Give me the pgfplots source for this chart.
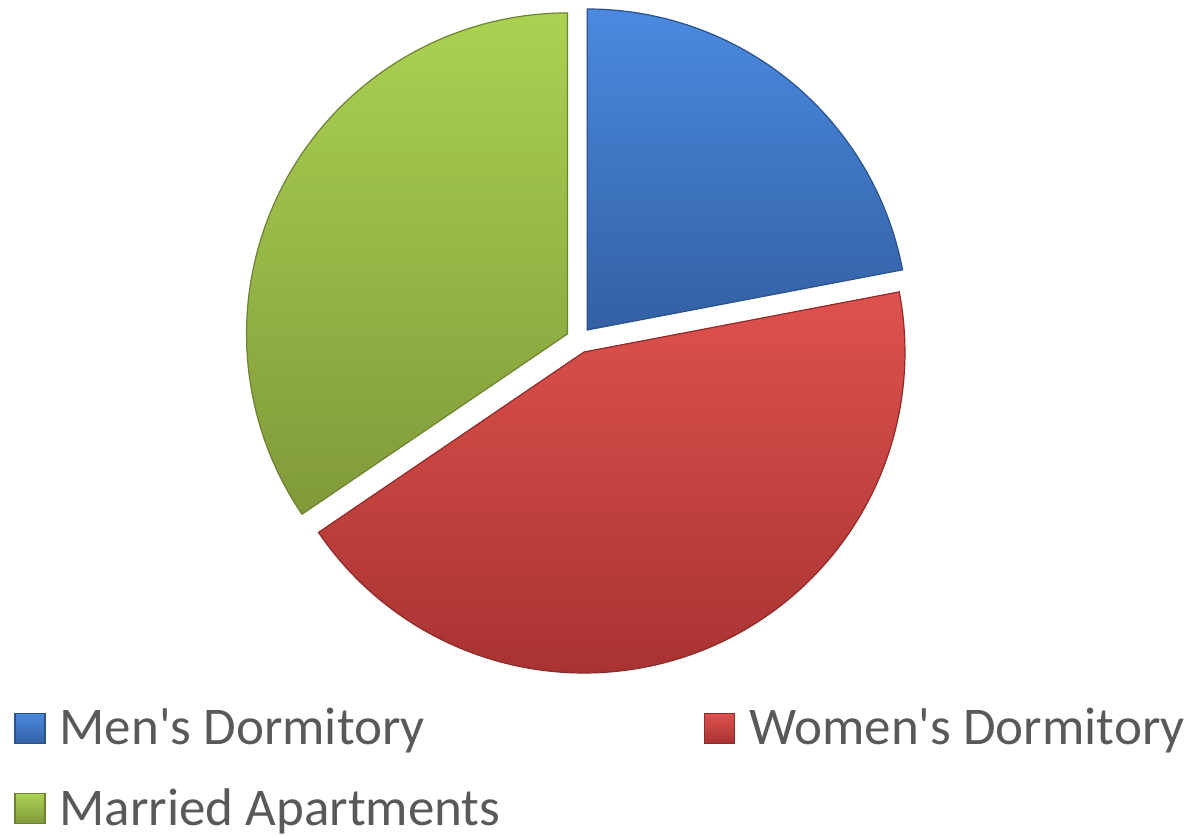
\documentclass[border=0pt]{standalone}
\usepackage{pgfplots}
\pgfplotsset{compat=1.18}
\usepackage{fontspec}
\setmainfont{Carlito}[Ligatures=TeXOff]
\definecolor{txt}{HTML}{595959}
\definecolor{bluetop}{HTML}{4A8AE0}
\definecolor{bluebot}{HTML}{3360A3}
\definecolor{redtop}{HTML}{DE524E}
\definecolor{redbot}{HTML}{A83331}
\definecolor{greentop}{HTML}{ABD152}
\definecolor{greenbot}{HTML}{809A3A}
% data (percent)
\def\vMen{22}
\def\vWomen{43.5}
\def\vMarried{34.5}
% geometry (axis units = pixels)
\def\cx{579}\def\cy{494}\def\rr{321}\def\dd{13}
\pgfmathsetmacro{\aA}{90}
\pgfmathsetmacro{\aB}{\aA-3.6*\vMen}
\pgfmathsetmacro{\aC}{\aB-3.6*\vWomen}
\pgfmathsetmacro{\aD}{\aC-3.6*\vMarried}
\pgfmathsetmacro{\mA}{(\aA+\aB)/2}
\pgfmathsetmacro{\mB}{(\aB+\aC)/2}
\pgfmathsetmacro{\mC}{(\aC+\aD)/2}
\pgfmathsetmacro{\pAx}{\cx+\dd*cos(\mA)}\pgfmathsetmacro{\pAy}{\cy+\dd*sin(\mA)}
\pgfmathsetmacro{\pBx}{\cx+\dd*cos(\mB)}\pgfmathsetmacro{\pBy}{\cy+\dd*sin(\mB)}
\pgfmathsetmacro{\pCx}{\cx+\dd*cos(\mC)}\pgfmathsetmacro{\pCy}{\cy+\dd*sin(\mC)}
\begin{document}
\begin{tikzpicture}
\begin{axis}[x=0.5pt,y=0.5pt,xmin=0,xmax=1196,ymin=0,ymax=834,
  hide axis, clip=false,
  legend columns=2, legend cell align=left,
  legend style={at={(axis cs:8,134)},anchor=north west,draw=none,fill=none,
    font=\fontsize{26.5}{32}\selectfont,text=txt,
    /tikz/every odd column/.append style={column sep=5pt},
    /tikz/every even column/.append style={column sep=100pt},
    row sep=16.5pt},
  legend image code/.code={\path[#1] (0pt,-7.5pt) rectangle (15pt,7.5pt);},
]
\path (axis cs:0,0) rectangle (axis cs:1196,834);
\addplot[draw=bluebot!85!black,line width=0.6pt,top color=bluetop,bottom color=bluebot,
  domain=\aB:\aA,samples=90,variable=\t]
  ({\pAx+\rr*cos(t)},{\pAy+\rr*sin(t)}) -- (axis cs:\pAx,\pAy) -- cycle;
\addlegendentry{Men's Dormitory}
\addplot[draw=redbot!85!black,line width=0.6pt,top color=redtop,bottom color=redbot,
  domain=\aC:\aB,samples=120,variable=\t]
  ({\pBx+\rr*cos(t)},{\pBy+\rr*sin(t)}) -- (axis cs:\pBx,\pBy) -- cycle;
\addlegendentry{Women's Dormitory}
\addplot[draw=greenbot!85!black,line width=0.6pt,top color=greentop,bottom color=greenbot,
  domain=\aD:\aC,samples=100,variable=\t]
  ({\pCx+\rr*cos(t)},{\pCy+\rr*sin(t)}) -- (axis cs:\pCx,\pCy) -- cycle;
\addlegendentry{Married Apartments}
\end{axis}
\end{tikzpicture}
\end{document}
